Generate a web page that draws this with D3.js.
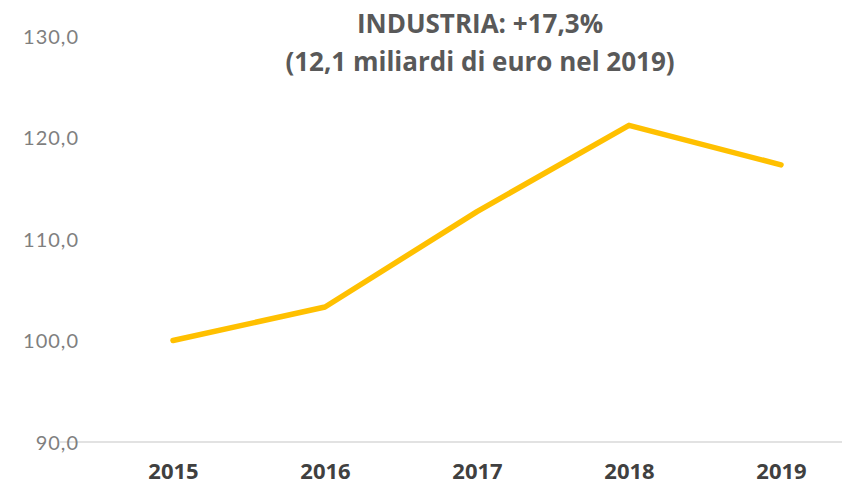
<!DOCTYPE html>
<html>
<head>
<meta charset="utf-8">
<script src="https://cdn.jsdelivr.net/npm/d3@7"></script>
<style>
  html, body { margin: 0; padding: 0; background: #ffffff; }
  svg { display: block; }
</style>
</head>
<body>
<svg id="chart" width="842" height="485"></svg>
<script>
const years = ["2015", "2016", "2017", "2018", "2019"];
const values = [100.0, 103.3, 112.7, 121.2, 117.3];
const yTicks = [90, 100, 110, 120, 130];
const titleLines = ["INDUSTRIA: +17,3%", "(12,1 miliardi di euro nel 2019)"];

const svg = d3.select("#chart");
const W = 842, H = 485;

const x = d3.scalePoint().domain(years).range([173, 781]);
const y = d3.scaleLinear().domain([90, 130]).range([442, 36]);

const it = d3.formatLocale({decimal: ",", thousands: ".", grouping: [3], currency: ["€", ""]});
const fmt = it.format(".1f");

// baseline
svg.append("line")
  .attr("x1", 60).attr("x2", W)
  .attr("y1", y(90)).attr("y2", y(90))
  .attr("stroke", "#d9d9d9").attr("stroke-width", 1.5);

// y axis
const yAxis = svg.append("g")
  .attr("transform", "translate(79,0)")
  .call(d3.axisLeft(y).tickValues(yTicks).tickFormat(fmt).tickSize(0).tickPadding(0));
yAxis.select(".domain").remove();
yAxis.selectAll("text")
  .attr("fill", "#7f7f7f")
  .style("font-family", "Lato, 'Open Sans', sans-serif")
  .style("font-size", "20px")
  .style("letter-spacing", "1px")
  .attr("dy", "0.35em");

// x axis
const xAxis = svg.append("g")
  .attr("transform", `translate(0,${y(90)})`)
  .call(d3.axisBottom(x).tickSize(0).tickPadding(0));
xAxis.select(".domain").remove();
xAxis.selectAll("text")
  .attr("fill", "#404040")
  .attr("dy", "0")
  .attr("y", 37)
  .style("font-family", "'Open Sans', sans-serif")
  .style("font-weight", "bold")
  .style("font-size", "22px");

// line
const line = d3.line()
  .x((d, i) => x(years[i]))
  .y(d => y(d));
svg.append("path")
  .datum(values)
  .attr("d", line)
  .attr("fill", "none")
  .attr("stroke", "#FFC000")
  .attr("stroke-width", 5.5)
  .attr("stroke-linejoin", "round")
  .attr("stroke-linecap", "round");

// title
const title = svg.append("text")
  .attr("text-anchor", "middle")
  .attr("fill", "#595959")
  .style("font-family", "'Open Sans', sans-serif")
  .style("font-weight", "bold")
  .style("font-size", "26px");
title.selectAll("tspan").data(titleLines).enter().append("tspan")
  .attr("x", 480)
  .attr("y", (d, i) => 33 + i * 38)
  .text(d => d);
</script>
</body>
</html>
